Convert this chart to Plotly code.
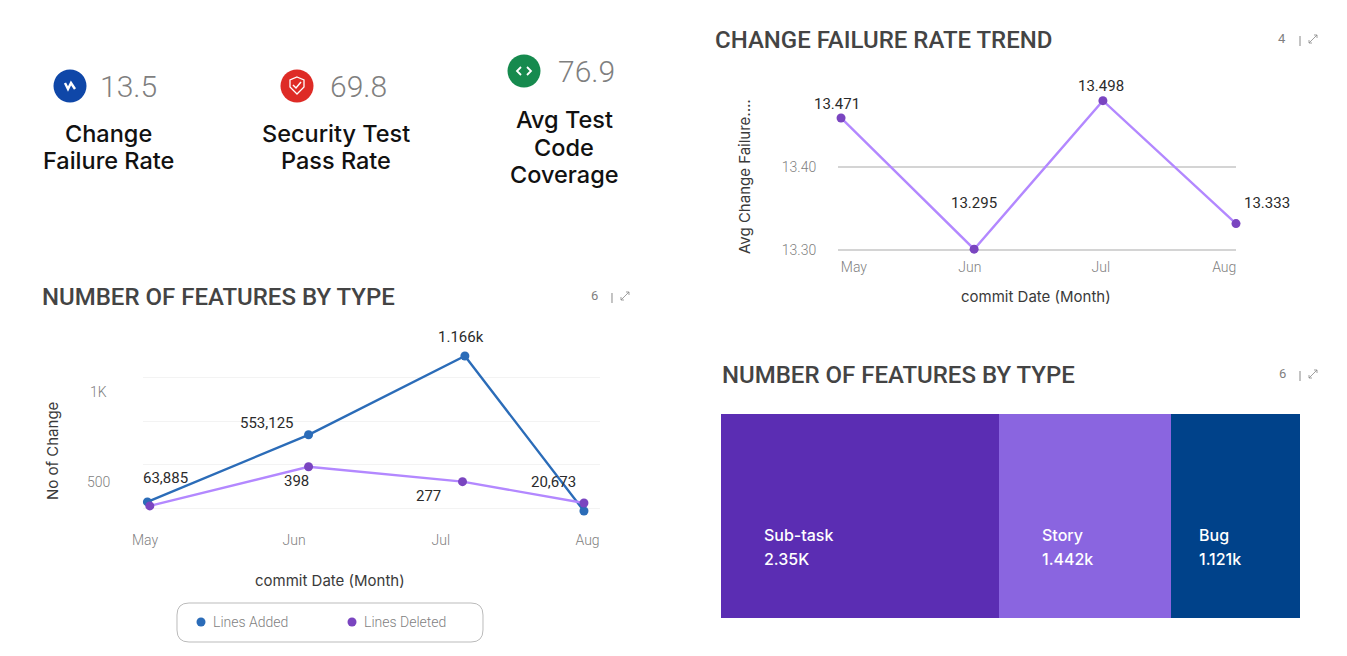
import plotly.graph_objects as go

WIDTH = 1347
HEIGHT = 656

MONTHS = ["May", "Jun", "Jul", "Aug"]

# number of features by type (line chart)
ADDED_DATES = ["2023-05-01 12:00", "2023-06-04", "2023-07-06 12:00", "2023-07-31 06:00"]
DELETED_DATES = ["2023-05-02", "2023-06-04", "2023-07-06", "2023-07-31 06:00"]
LINES_ADDED = [285, 672, 1126, 233]
LINES_DELETED = [262, 488, 402, 279]
ADDED_LABELS = ["63,885", "553,125", "1.166k", "20,673"]
DELETED_LABELS = ["", "398", "277", ""]
FEATURE_MONTH_TICKS = ["2023-05-01", "2023-06-01", "2023-07-01 12:00", "2023-08-01"]

# change failure rate trend
TREND_DATES = ["2023-05-01", "2023-06-01", "2023-07-01", "2023-08-01"]
TREND_VALUES = [13.460, 13.301, 13.481, 13.332]
TREND_LABELS = ["13.471", "13.295", "13.498", "13.333"]
TREND_MONTH_TICKS = ["2023-05-04", "2023-05-31", "2023-06-30 12:00", "2023-07-29 06:00"]

# number of features by type (proportional blocks, widths as drawn)
TYPES = ["Sub-task", "Story", "Bug"]
TYPE_COUNTS = [2359, 1460, 1094]
TYPE_LABELS = ["2.35K", "1.442k", "1.121k"]
TYPE_COLORS = ["#5B2DB3", "#8A65E0", "#00428A"]

KPI_VALUES = ["13.5", "69.8", "76.9"]

BLUE = "#2B6CB8"
PURPLE_LINE = "#B388FF"
PURPLE_DOT = "#7A45C0"
TITLE = "#3A3A3A"
GREY = "#7F7F7F"
FONT = "Inter"
THIN = "Roboto"
KPI_TEXT = dict(size=23.5, color="#111111", weight=500)
KPI_NUMBER = dict(size=30, color=GREY, family=THIN, anchor="left", weight=300)
SMALL_GREY = dict(size=14, color=GREY, family=THIN, weight=300)
TICK_FONT = dict(size=14, color=GREY, family=THIN, weight=300)


def px(x):
    return x / WIDTH


def py(y):
    return 1 - y / HEIGHT


def path(points, close=False):
    parts = [f"{'M' if i == 0 else 'L'}{px(x):.5f},{py(y):.5f}" for i, (x, y) in enumerate(points)]
    return " ".join(parts) + (" Z" if close else "")


def rounded_box(x0, y0, x1, y1, r):
    return (
        f"M{px(x0 + r):.5f},{py(y0):.5f} L{px(x1 - r):.5f},{py(y0):.5f} "
        f"Q{px(x1):.5f},{py(y0):.5f} {px(x1):.5f},{py(y0 + r):.5f} "
        f"L{px(x1):.5f},{py(y1 - r):.5f} Q{px(x1):.5f},{py(y1):.5f} {px(x1 - r):.5f},{py(y1):.5f} "
        f"L{px(x0 + r):.5f},{py(y1):.5f} Q{px(x0):.5f},{py(y1):.5f} {px(x0):.5f},{py(y1 - r):.5f} "
        f"L{px(x0):.5f},{py(y0 + r):.5f} Q{px(x0):.5f},{py(y0):.5f} {px(x0 + r):.5f},{py(y0):.5f} Z"
    )


fig = go.Figure()
annotations = []
shapes = []


def text(x, y, value, size=15, color=TITLE, family=FONT, anchor="center", weight=400, angle=0):
    annotations.append(
        dict(
            x=px(x), y=py(y), xref="paper", yref="paper", text=value, showarrow=False,
            xanchor=anchor, yanchor="middle", textangle=angle,
            font=dict(size=size, color=color, family=family, weight=weight),
        )
    )


def circle(x, y, r, color):
    shapes.append(
        dict(type="circle", xref="paper", yref="paper", x0=px(x - r), x1=px(x + r),
             y0=py(y + r), y1=py(y - r), fillcolor=color, line=dict(width=0))
    )


def stroke(points, color, width=1.5, fill=None, close=False):
    shapes.append(
        dict(type="path", xref="paper", yref="paper", path=path(points, close),
             line=dict(color=color, width=width), fillcolor=fill)
    )


def card_header(title_x, title_y, title, count, right):
    text(title_x - 2, title_y, title, size=24, color="#444444", family=THIN, anchor="left", weight=500)
    text(right - 38, title_y - 2, count, size=13, color=GREY, family=THIN)
    stroke([(right - 20, title_y - 4), (right - 20, title_y + 6)], "#888888", 1)
    # expand arrows
    cx, cy = right - 7, title_y - 1
    stroke([(cx - 4, cy + 4), (cx + 4, cy - 4)], "#888888", 0.8)
    stroke([(cx + 1, cy - 4), (cx + 4, cy - 4), (cx + 4, cy - 1)], "#888888", 0.8)
    stroke([(cx - 4, cy + 1), (cx - 4, cy + 4), (cx - 1, cy + 4)], "#888888", 0.8)


def point_labels(labels, dates, values, shifts, axis):
    for label, date, value, (dx, dy) in zip(labels, dates, values, shifts):
        if label:
            annotations.append(
                dict(x=date, y=value, xref=f"x{axis}", yref=f"y{axis}", text=label, showarrow=False,
                     xshift=dx, yshift=dy, xanchor="center", yanchor="middle",
                     font=dict(size=15, color="#2B2B2B", family=THIN))
            )


# KPI tiles
circle(70, 86, 16.5, "#0F47A8")
stroke([(65, 83), (68, 89), (71, 83), (75, 89)], "white", 2.4)
text(98, 86, KPI_VALUES[0], **KPI_NUMBER)
text(108, 134, "Change", **KPI_TEXT)
text(108, 161, "Failure Rate", **KPI_TEXT)

circle(297, 86, 16.5, "#DE2B26")
stroke([(297, 77), (304, 80), (304, 87), (297, 94), (290, 87), (290, 80)], "white", 1.3, close=True)
stroke([(293, 85), (296, 88), (301, 82)], "white", 1.5)
text(328, 86, KPI_VALUES[1], **KPI_NUMBER)
text(336, 134, "Security Test", **KPI_TEXT)
text(336, 161, "Pass Rate", **KPI_TEXT)

circle(524, 71, 16.5, "#168A4E")
stroke([(521, 67), (517, 71), (521, 75)], "white", 1.8)
stroke([(527, 67), (531, 71), (527, 75)], "white", 1.8)
text(556, 71, KPI_VALUES[2], **KPI_NUMBER)
text(564, 120, "Avg Test", **KPI_TEXT)
text(564, 147, "Code", **KPI_TEXT)
text(564, 174, "Coverage", **KPI_TEXT)

# features line chart
card_header(42, 297, "NUMBER OF FEATURES BY TYPE", "6", 632)
fig.add_trace(
    go.Scatter(x=ADDED_DATES, y=LINES_ADDED, mode="lines+markers", name="Lines Added", cliponaxis=False,
               line=dict(color=BLUE, width=2.4), marker=dict(color=BLUE, size=9), xaxis="x", yaxis="y")
)
fig.add_trace(
    go.Scatter(x=DELETED_DATES, y=LINES_DELETED, mode="lines+markers", name="Lines Deleted", cliponaxis=False,
               line=dict(color=PURPLE_LINE, width=2.4), marker=dict(color=PURPLE_DOT, size=9), xaxis="x", yaxis="y")
)
point_labels(ADDED_LABELS, ADDED_DATES, LINES_ADDED, [(18, 24), (-42, 12), (-4, 19), (-30, 29)], "")
point_labels(DELETED_LABELS, DELETED_DATES, LINES_DELETED, [(0, 0), (-12, -14), (-34, -14), (0, 0)], "")
text(98, 392, "1K", **SMALL_GREY)
text(98, 482, "500", **SMALL_GREY)
text(52, 451, "No of Change", angle=-90)
text(330, 580, "commit Date (Month)")

# legend
shapes.append(
    dict(type="path", xref="paper", yref="paper", path=rounded_box(177, 603, 483, 642, 12),
         line=dict(color="#BBBBBB", width=1))
)
circle(201, 622, 4.5, BLUE)
text(211, 622, "Lines Added", anchor="left", **SMALL_GREY)
circle(352, 622, 4.5, PURPLE_DOT)
text(362, 622, "Lines Deleted", anchor="left", **SMALL_GREY)

# trend chart
card_header(715, 40, "CHANGE FAILURE RATE TREND", "4", 1320)
fig.add_trace(
    go.Scatter(x=TREND_DATES, y=TREND_VALUES, mode="lines+markers", name="Avg Change Failure Rate", cliponaxis=False,
               line=dict(color=PURPLE_LINE, width=2.4), marker=dict(color=PURPLE_DOT, size=9), xaxis="x2", yaxis="y2")
)
point_labels(TREND_LABELS, TREND_DATES, TREND_VALUES, [(-4, 14), (0, 46), (-2, 15), (31, 21)], "2")
text(745, 177, "Avg Change Failure....", angle=-90)
text(1036, 296, "commit Date (Month)")

# proportional blocks
card_header(722, 375, "NUMBER OF FEATURES BY TYPE", "6", 1320)
left_edge = 0
for kind, count, label, color, indent in zip(TYPES, TYPE_COUNTS, TYPE_LABELS, TYPE_COLORS, [41, 41, 26]):
    fig.add_trace(
        go.Bar(y=["all"], x=[count], orientation="h", name=kind, marker=dict(color=color, line=dict(width=0)),
               xaxis="x3", yaxis="y3")
    )
    for line, y_shift in ((kind, 12), (label, -12)):
        annotations.append(
            dict(x=left_edge, y="all", xref="x3", yref="y3", text=line, showarrow=False, xshift=indent,
                 yshift=y_shift - 31, xanchor="left", yanchor="middle",
                 font=dict(size=16, color="white", family=FONT, weight=500))
        )
    left_edge += count

fig.update_layout(
    width=WIDTH,
    height=HEIGHT,
    margin=dict(l=0, r=0, t=0, b=0, autoexpand=False),
    paper_bgcolor="white",
    plot_bgcolor="white",
    showlegend=False,
    barmode="stack",
    bargap=0,
    annotations=annotations,
    shapes=shapes,
    xaxis=dict(
        domain=[px(143), px(600)], anchor="y", type="date",
        range=["2023-04-30 14:00", "2023-08-03 14:00"],
        tickvals=FEATURE_MONTH_TICKS, ticktext=MONTHS, showgrid=False, zeroline=False, showline=False,
        ticks="outside", ticklen=2, tickcolor="white", tickfont=TICK_FONT,
    ),
    yaxis=dict(
        domain=[py(525), py(330)], anchor="x", range=[152, 1276],
        tickvals=[250, 500, 750, 1000], ticktext=["", "", "", ""], showgrid=True, gridcolor="#F3F3F3",
        zeroline=False, showline=False,
    ),
    xaxis2=dict(
        domain=[px(838), px(1236)], anchor="y2", type="date",
        range=["2023-04-30 07:00", "2023-08-01"],
        tickvals=TREND_MONTH_TICKS, ticktext=MONTHS, showgrid=False, zeroline=False, showline=False,
        ticks="outside", ticklen=2, tickcolor="white",
        tickfont=TICK_FONT,
    ),
    yaxis2=dict(
        domain=[py(252), py(80)], anchor="x2", range=[13.2976, 13.506],
        tickvals=[13.30, 13.40], ticktext=["13.30", "13.40"], showgrid=True, gridcolor="#D4D4D4", gridwidth=1.5,
        zeroline=False, showline=False, ticks="outside", ticklen=18, tickcolor="white",
        tickfont=TICK_FONT,
    ),
    xaxis3=dict(
        domain=[px(721), px(1300)], anchor="y3", range=[0, sum(TYPE_COUNTS)],
        visible=False,
    ),
    yaxis3=dict(domain=[py(618), py(414)], anchor="x3", visible=False),
)

fig.write_html("out.html", config=dict(displayModeBar=False), post_script="document.body.style.margin='0';")
